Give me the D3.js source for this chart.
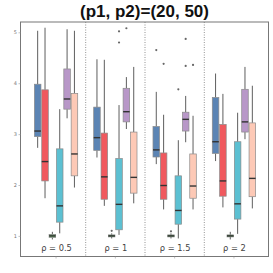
<!DOCTYPE html>
<html><head><meta charset="utf-8">
<script src="https://cdn.jsdelivr.net/npm/d3@7"></script>
<style>body{margin:0;background:#fff;}svg{display:block;}</style>
</head><body>
<script>
const groups = ["ρ = 0.5", "ρ = 1", "ρ = 1.5", "ρ = 2"];
const hues = ["blue", "red", "green", "cyan", "purple", "peach"];
const colors = ["#5b84b4", "#f0595e", "#6aaa6a", "#5cc0d2", "#b897c8", "#fdc9b6"];
// each row: [whiskerLow, q1, median, q3, whiskerHigh] per hue
const statsBlue   = [[2.73,2.95,3.06,3.98,5.03],[2.54,2.68,2.93,3.53,4.47],[2.41,2.55,2.69,3.15,3.83],[2.47,2.62,2.85,3.72,4.19]];
const statsRed    = [[1.74,2.08,2.46,3.87,5.09],[1.59,1.72,2.16,3.02,4.46],[1.52,1.72,1.99,2.63,3.38],[1.56,1.78,2.08,3.19,3.79]];
const statsGreen  = [[0.93,0.97,1.0,1.03,1.08],[0.95,0.98,1.0,1.02,1.05],[0.95,0.98,1.0,1.02,1.05],[0.93,0.98,1.0,1.02,1.08]];
const statsCyan   = [[1.05,1.27,1.59,2.71,3.49],[1.02,1.12,1.62,2.52,3.57],[0.95,1.23,1.50,2.18,2.88],[1.04,1.33,1.63,2.85,3.42]];
const statsPurple = [[3.31,3.49,3.69,4.28,5.06],[3.10,3.24,3.44,3.90,4.12],[2.84,3.06,3.29,3.43,3.75],[2.90,3.04,3.24,3.88,4.32]];
const statsPeach  = [[1.95,2.18,2.61,3.80,5.03],[1.64,1.84,2.15,3.04,4.32],[1.52,1.74,1.98,2.61,3.36],[1.54,1.77,2.13,3.22,3.95]];
// outliers: [groupIndex, hueIndex, value]
const outliers = [
  [1,3,5.02],[1,3,4.80],[1,4,5.08],[1,2,1.10],
  [2,0,4.65],[2,1,4.38],[2,3,3.88],[2,4,4.87],[2,4,4.34],[2,5,4.36],[2,2,1.09]
];
const yTicks = [1,2,3,4,5];
const title = "(p1, p2)=(20, 50)";

const allStats = [statsBlue, statsRed, statsGreen, statsCyan, statsPurple, statsPeach];
const W = 273, H = 273;
const frame = {left: 20.5, right: 268.5, top: 22, bottom: 256.5};
const svg = d3.select("body").append("svg").attr("width", W).attr("height", H);

const y = d3.scaleLinear().domain([1,5]).range([235.9, 32.3]);
const x = d3.scaleBand().domain(groups).range([26.4, 263.6]).padding(0);
const gw = x.bandwidth();
const xh = d3.scaleBand().domain(hues).range([-gw*0.372, gw*0.372]).padding(0);
const bw = xh.bandwidth();

// title
svg.append("text").attr("x", (frame.left+frame.right)/2).attr("y", 17)
  .attr("text-anchor","middle").attr("font-family","Liberation Sans, Arial, sans-serif")
  .attr("font-weight","bold").attr("font-size", 17).attr("fill","#111").text(title);

// dividers
groups.slice(1).forEach(g => {
  svg.append("line").attr("x1", x(g)).attr("x2", x(g)).attr("y1", frame.top).attr("y2", frame.bottom)
    .attr("stroke","#777").attr("stroke-width",0.8).attr("stroke-dasharray","1,1.5");
});

// boxes
groups.forEach((g, gi) => {
  const cx0 = x(g) + gw/2;
  hues.forEach((h, hi) => {
    const s = allStats[hi][gi];
    const bx = cx0 + xh(h);
    const cx = bx + bw/2;
    const gg = svg.append("g");
    gg.append("line").attr("x1",cx).attr("x2",cx).attr("y1",y(s[0])).attr("y2",y(s[1]))
      .attr("stroke","#5e5e5e").attr("stroke-width",1);
    gg.append("line").attr("x1",cx).attr("x2",cx).attr("y1",y(s[3])).attr("y2",y(s[4]))
      .attr("stroke","#5e5e5e").attr("stroke-width",1);
    gg.append("rect").attr("x", bx+0.4).attr("width", bw-0.8)
      .attr("y", y(s[3])).attr("height", Math.max(0.8, y(s[1]) - y(s[3])))
      .attr("fill", colors[hi]).attr("stroke","#8a8a8a").attr("stroke-width",0.7);
    gg.append("line").attr("x1",bx+0.4).attr("x2",bx+bw-0.4).attr("y1",y(s[2])).attr("y2",y(s[2]))
      .attr("stroke","#333").attr("stroke-width",1.4);
  });
});

// outliers
outliers.forEach(o => {
  const cx = x(groups[o[0]]) + gw/2 + xh(hues[o[1]]) + bw/2;
  svg.append("circle").attr("cx", cx).attr("cy", y(o[2])).attr("r", 1.1).attr("fill","#666");
});

// group labels
groups.forEach(g => {
  svg.append("text").attr("x", x(g)+gw/2 + 0.5).attr("y", 251)
    .attr("text-anchor","middle").attr("font-family","DejaVu Sans, sans-serif")
    .attr("font-size", 8.3).attr("fill","#444").text(g);
});

// frame
svg.append("rect").attr("x",frame.left).attr("y",frame.top)
  .attr("width",frame.right-frame.left).attr("height",frame.bottom-frame.top)
  .attr("fill","none").attr("stroke","#777").attr("stroke-width",1);

// y axis ticks
const yAxis = svg.append("g").attr("transform",`translate(${frame.left},0)`)
  .call(d3.axisLeft(y).tickValues(yTicks).tickSize(2).tickPadding(1.5).tickFormat(d3.format("d")));
yAxis.select(".domain").remove();
yAxis.selectAll("line").attr("stroke","#999").attr("stroke-width",0.6);
yAxis.selectAll("text").attr("font-size",5).attr("fill","#777").attr("font-family","DejaVu Sans, sans-serif");

// x axis ticks
const xc = d3.scaleOrdinal().domain(groups).range(groups.map(g => x(g)+gw/2));
const xAxis = svg.append("g").attr("transform",`translate(0,${frame.bottom})`);
groups.forEach(g => {
  xAxis.append("line").attr("x1", xc(g)).attr("x2", xc(g)).attr("y1",0).attr("y2",2)
    .attr("stroke","#999").attr("stroke-width",0.6);
});
</script>
</body></html>
